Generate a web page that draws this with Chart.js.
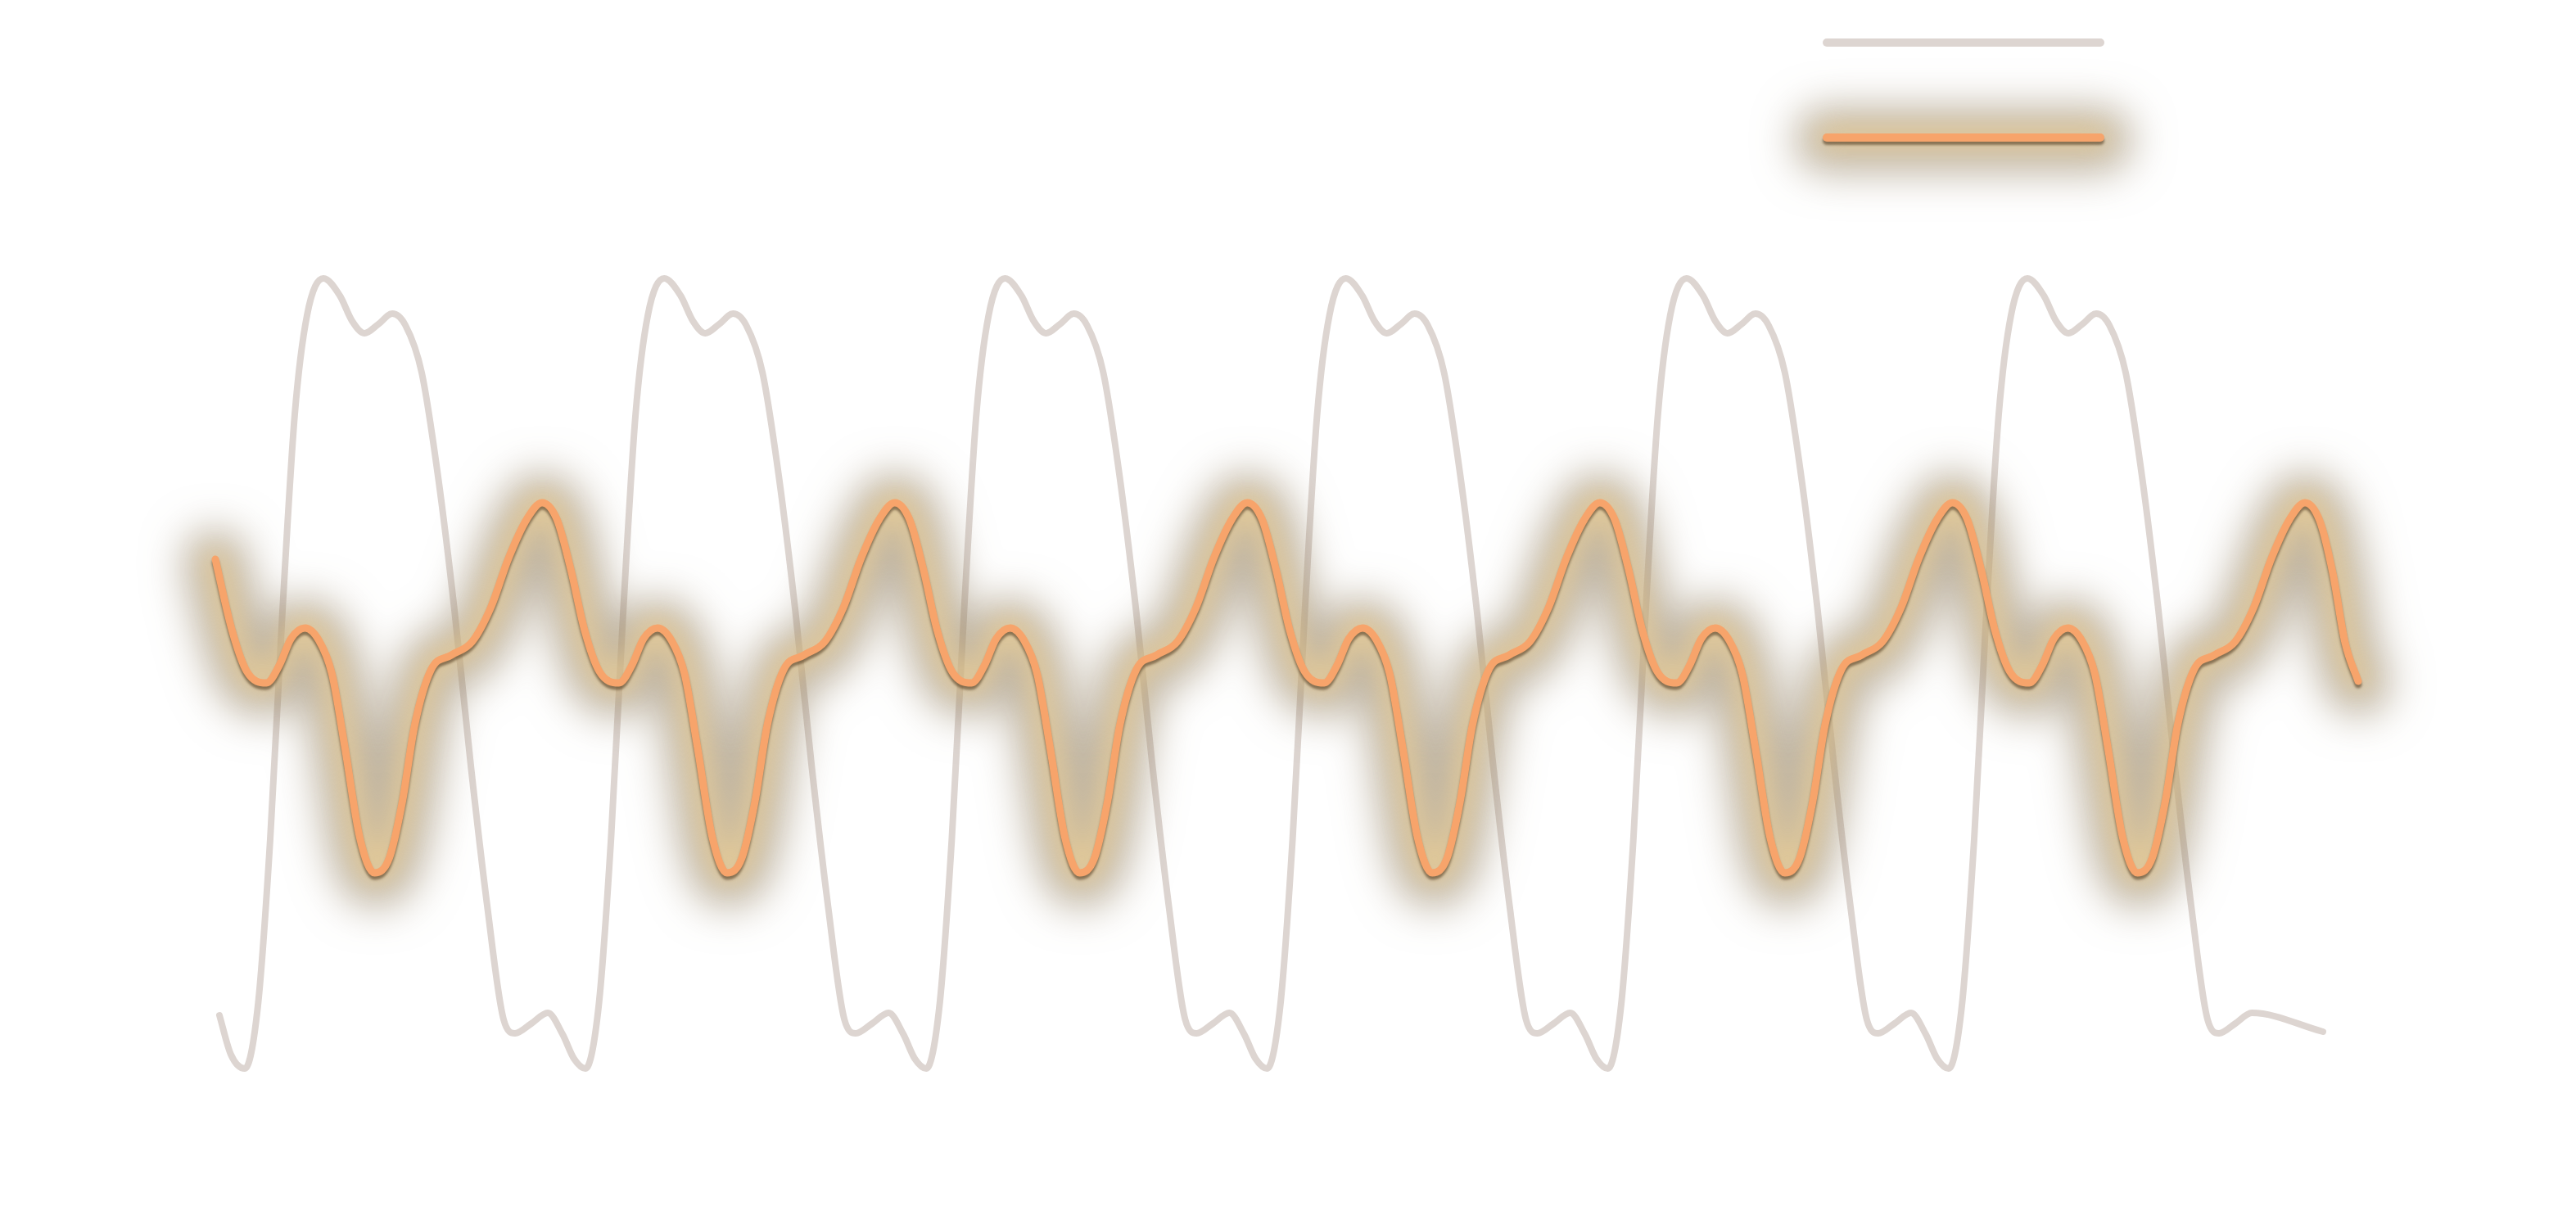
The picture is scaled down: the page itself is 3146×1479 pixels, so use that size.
<!DOCTYPE html>
<html>
<head>
<meta charset="utf-8">
<title>Waves</title>
<script src="https://cdn.jsdelivr.net/npm/chart.js@4.4.1/dist/chart.umd.min.js"></script>
<style>
    html, body { margin: 0; padding: 0; background: #ffffff; }
    #wrap { width: 3146px; height: 1479px; position: relative; }
</style>
</head>
<body>
<div id="wrap"><canvas id="wave-canvas"></canvas></div>
<script>
// values (x along the run, y around the centre line)
const greyX = [
    0.10, 0.80, 1.65,
    2.45, 3.20, 3.95, 4.70, 5.45, 6.45, 7.45, 8.20, 8.95, 9.80, 10.65, 11.45, 12.45, 13.45, 14.45, 15.45, 16.45, 17.45, 18.15, 19.15, 20.15, 21.05, 21.75, 22.45,
    23.26, 24.01, 24.76, 25.51, 26.26, 27.26, 28.26, 29.01, 29.76, 30.61, 31.46, 32.26, 33.26, 34.26, 35.26, 36.26, 37.26, 38.26, 38.96, 39.96, 40.96, 41.86, 42.56, 43.26,
    44.07, 44.82, 45.57, 46.32, 47.07, 48.07, 49.07, 49.82, 50.57, 51.42, 52.27, 53.07, 54.07, 55.07, 56.07, 57.07, 58.07, 59.07, 59.77, 60.77, 61.77, 62.67, 63.37, 64.07,
    64.88, 65.63, 66.38, 67.13, 67.88, 68.88, 69.88, 70.63, 71.38, 72.23, 73.08, 73.88, 74.88, 75.88, 76.88, 77.88, 78.88, 79.88, 80.58, 81.58, 82.58, 83.48, 84.18, 84.88,
    85.69, 86.44, 87.19, 87.94, 88.69, 89.69, 90.69, 91.44, 92.19, 93.04, 93.89, 94.69, 95.69, 96.69, 97.69, 98.69, 99.69, 100.69, 101.39, 102.39, 103.39, 104.29, 104.99, 105.69,
    106.50, 107.25, 108.00, 108.75, 109.50, 110.50, 111.50, 112.25, 113.00, 113.85, 114.70, 115.50, 116.50, 117.50, 118.50, 119.50, 120.50, 121.50, 122.20, 123.20, 124.20, 128.55,
];
const greyY = [
    -4.22, -4.70, -4.87,
    -4.10, -2.07, 0.72, 3.12, 4.33, 4.78, 4.57, 4.26, 4.11, 4.22, 4.35, 4.21, 3.63, 2.36, 0.73, -1.17, -2.88, -4.27, -4.44, -4.32, -4.19, -4.45, -4.75, -4.87,
    -4.10, -2.07, 0.72, 3.12, 4.33, 4.78, 4.57, 4.26, 4.11, 4.22, 4.35, 4.21, 3.63, 2.36, 0.73, -1.17, -2.88, -4.27, -4.44, -4.32, -4.19, -4.45, -4.75, -4.87,
    -4.10, -2.07, 0.72, 3.12, 4.33, 4.78, 4.57, 4.26, 4.11, 4.22, 4.35, 4.21, 3.63, 2.36, 0.73, -1.17, -2.88, -4.27, -4.44, -4.32, -4.19, -4.45, -4.75, -4.87,
    -4.10, -2.07, 0.72, 3.12, 4.33, 4.78, 4.57, 4.26, 4.11, 4.22, 4.35, 4.21, 3.63, 2.36, 0.73, -1.17, -2.88, -4.27, -4.44, -4.32, -4.19, -4.45, -4.75, -4.87,
    -4.10, -2.07, 0.72, 3.12, 4.33, 4.78, 4.57, 4.26, 4.11, 4.22, 4.35, 4.21, 3.63, 2.36, 0.73, -1.17, -2.88, -4.27, -4.44, -4.32, -4.19, -4.45, -4.75, -4.87,
    -4.10, -2.07, 0.72, 3.12, 4.33, 4.78, 4.57, 4.26, 4.11, 4.22, 4.35, 4.21, 3.63, 2.36, 0.73, -1.17, -2.88, -4.27, -4.44, -4.32, -4.19, -4.42,
];

const orangeX = [
    -0.15, 0.87, 1.77, 2.97, 3.77, 4.47, 5.32, 6.17, 6.97, 7.77, 8.67, 9.57, 10.47, 11.27, 12.02, 13.02, 14.27, 15.52, 16.67, 17.77, 18.87,
    19.80, 20.70, 21.55, 22.40, 23.30, 24.50, 25.30, 26.00, 26.85, 27.70, 28.50, 29.30, 30.20, 31.10, 32.00, 32.80, 33.55, 34.55, 35.80, 37.05, 38.20, 39.30, 40.40,
    41.33, 42.23, 43.08, 43.93, 44.83, 46.03, 46.83, 47.53, 48.38, 49.23, 50.03, 50.83, 51.73, 52.63, 53.53, 54.33, 55.08, 56.08, 57.33, 58.58, 59.73, 60.83, 61.93,
    62.86, 63.76, 64.61, 65.46, 66.36, 67.56, 68.36, 69.06, 69.91, 70.76, 71.56, 72.36, 73.26, 74.16, 75.06, 75.86, 76.61, 77.61, 78.86, 80.11, 81.26, 82.36, 83.46,
    84.39, 85.29, 86.14, 86.99, 87.89, 89.09, 89.89, 90.59, 91.44, 92.29, 93.09, 93.89, 94.79, 95.69, 96.59, 97.39, 98.14, 99.14, 100.39, 101.64, 102.79, 103.89, 104.99,
    105.92, 106.82, 107.67, 108.52, 109.42, 110.62, 111.42, 112.12, 112.97, 113.82, 114.62, 115.42, 116.32, 117.22, 118.12, 118.92, 119.67, 120.67, 121.92, 123.17, 124.32, 125.42, 126.52,
    127.45, 128.35, 129.15, 129.90, 130.70,
];
const orangeY = [
    1.35, 0.48, -0.02, -0.16, 0.06, 0.38, 0.51, 0.36, -0.05, -0.96, -2.05, -2.48, -2.30, -1.61, -0.68, 0.00, 0.18, 0.34, 0.76, 1.37, 1.84,
    2.04, 1.84, 1.23, 0.48, -0.02, -0.16, 0.06, 0.38, 0.51, 0.36, -0.05, -0.96, -2.05, -2.48, -2.30, -1.61, -0.68, 0.00, 0.18, 0.34, 0.76, 1.37, 1.84,
    2.04, 1.84, 1.23, 0.48, -0.02, -0.16, 0.06, 0.38, 0.51, 0.36, -0.05, -0.96, -2.05, -2.48, -2.30, -1.61, -0.68, 0.00, 0.18, 0.34, 0.76, 1.37, 1.84,
    2.04, 1.84, 1.23, 0.48, -0.02, -0.16, 0.06, 0.38, 0.51, 0.36, -0.05, -0.96, -2.05, -2.48, -2.30, -1.61, -0.68, 0.00, 0.18, 0.34, 0.76, 1.37, 1.84,
    2.04, 1.84, 1.23, 0.48, -0.02, -0.16, 0.06, 0.38, 0.51, 0.36, -0.05, -0.96, -2.05, -2.48, -2.30, -1.61, -0.68, 0.00, 0.18, 0.34, 0.76, 1.37, 1.84,
    2.04, 1.84, 1.23, 0.48, -0.02, -0.16, 0.06, 0.38, 0.51, 0.36, -0.05, -0.96, -2.05, -2.48, -2.30, -1.61, -0.68, 0.00, 0.18, 0.34, 0.76, 1.37, 1.84,
    2.04, 1.82, 1.18, 0.33, -0.14,
];

const GREY = "#ddd5d1";
const ORANGE = "#f7a46b";
const OFF = 10000;

function toPoints(xs, ys) {
    return xs.map((x, i) => ({ x: x, y: ys[i] }));
}

// stroke far off canvas and shift only the shadow back, so just the blur shows
function shadowBand(ctx, stroke, args, width, color, blur, dy) {
    ctx.save();
    ctx.lineWidth = width;
    ctx.strokeStyle = "#000000";
    ctx.shadowColor = color;
    ctx.shadowBlur = blur;
    ctx.shadowOffsetX = OFF;
    ctx.shadowOffsetY = dy;
    ctx.translate(-OFF, 0);
    stroke.apply(ctx, args);
    ctx.restore();
}

// glow under the orange line: dusky halo, warm inner glow, thin dark rim
const glowPlugin = {
    id: "glow",
    beforeInit(chart) {
        const ctx = chart.ctx;
        const stroke = ctx.stroke;
        ctx.stroke = function (...args) {
            if (this.strokeStyle !== ORANGE || !args.length) {
                return stroke.apply(this, args);
            }
            shadowBand(this, stroke, args, 80, "rgba(138, 120, 90, 0.55)", 50, 3);
            shadowBand(this, stroke, args, 24, "rgba(242, 210, 145, 0.8)", 32, 0);
            this.save();
            this.shadowColor = "rgba(70, 45, 20, 0.55)";
            this.shadowBlur = 3;
            this.shadowOffsetY = 4;
            stroke.apply(this, args);
            this.restore();
        };
    },
};

// legend swatches only, stacked in the top right
const lineLegend = {
    id: "lineLegend",
    afterDraw(chart) {
        const ctx = chart.ctx;
        const rows = [chart.data.datasets[0], chart.data.datasets[1]];
        rows.forEach((ds, i) => {
            const y = 52 + i * 116;
            const path = new Path2D();
            path.moveTo(2231, y);
            path.lineTo(2565, y);
            ctx.save();
            ctx.lineCap = "round";
            ctx.lineWidth = 10;
            ctx.strokeStyle = ds.borderColor;
            ctx.stroke(path);
            ctx.restore();
        });
    },
};

let waveChart;
function start() {
    const data = {
        datasets: [
            {
                label: "Grey",
                data: toPoints(greyX, greyY),
                borderColor: GREY,
                borderWidth: 8,
                order: 2,
            },
            {
                label: "Orange",
                data: toPoints(orangeX, orangeY),
                borderColor: ORANGE,
                borderWidth: 9,
                order: 1,
            },
        ],
    };
    const config = {
        type: "line",
        data: data,
        options: {
            responsive: true,
            maintainAspectRatio: false,
            animation: false,
            devicePixelRatio: 1,
            layout: {
                padding: { left: 66, right: 80, top: 18, bottom: 61 },
            },
            elements: {
                point: { radius: 0 },
                line: {
                    fill: false,
                    cubicInterpolationMode: "monotone",
                    borderCapStyle: "round",
                    borderJoinStyle: "round",
                },
            },
            scales: {
                x: { type: "linear", min: -10, max: 140, display: false },
                y: { type: "linear", min: -6, max: 8, display: false },
            },
            plugins: {
                legend: { display: false },
                tooltip: { enabled: false },
            },
        },
        plugins: [glowPlugin, lineLegend],
    };
    const canvas = document.querySelector("#wave-canvas");
    if (waveChart !== undefined) waveChart.destroy();
    waveChart = new Chart(canvas, config);
}

start();
</script>
</body>
</html>
